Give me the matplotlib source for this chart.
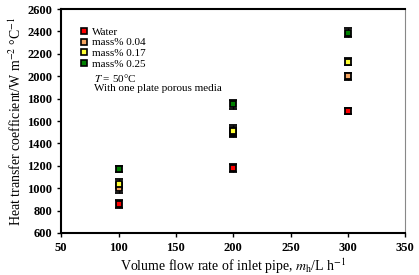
import matplotlib.pyplot as plt
import numpy as np

plt.rcParams['font.family'] = ['Liberation Serif', 'DejaVu Serif']
plt.rcParams['mathtext.fontset'] = 'stix'

flow = [100, 200, 300]
labels = ['Water', 'mass% 0.04', 'mass% 0.17', 'mass% 0.25']
h_water = [860, 1180, 1690]
h_004 = [1000, 1500, 2000]
h_017 = [1040, 1515, 2130]
h_025 = [1170, 1750, 2390]
err_water = [35, 35, 25]
err_004 = [45, 45, 30]
err_017 = [40, 50, 30]
err_025 = [30, 40, 40]
colors = ['#ff0000', '#f4a460', '#ffff33', '#008000']

fig = plt.figure(figsize=(4.19, 2.75), dpi=100)
ax = fig.add_axes([0.146, 0.153, 0.821, 0.814])

series = [(h_water, err_water), (h_004, err_004), (h_017, err_017), (h_025, err_025)]
for (vals, errs), c, lab in zip(series, colors, labels):
    ax.errorbar(flow, vals, yerr=errs, fmt='s', ms=4.5, mfc=c, mec='black', mew=1.3,
                ecolor='black', elinewidth=1, capsize=3, capthick=1.5, label=lab)

ax.set_xlim(50, 350)
ax.set_ylim(600, 2600)
ax.set_xticks(np.arange(50, 351, 50))
ax.set_yticks(np.arange(600, 2601, 200))
ax.tick_params(direction='out', length=3, width=1, labelsize=9)
for t in ax.get_xticklabels() + ax.get_yticklabels():
    t.set_fontweight('bold')
ax.spines['left'].set_linewidth(1.5)
ax.spines['bottom'].set_linewidth(1.5)
ax.spines['top'].set_linewidth(1.5)
ax.spines['right'].set_color('#888888')

ax.set_xlabel('Volume flow rate of inlet pipe, $m_{\\mathrm{h}}$/L h$^{-1}$', fontsize=10, labelpad=2)
ax.set_ylabel('Heat transfer coefficient/W m$^{-2}$ \u00b0C$^{-1}$', fontsize=10, labelpad=2)

handles = [plt.Line2D([], [], ls='', marker='s', ms=4.5, mfc=c, mec='black', mew=1.2) for c in colors]
leg = ax.legend(handles, labels, loc='upper left', bbox_to_anchor=(0.045, 0.94), frameon=False,
                fontsize=8, handlelength=0.6, handletextpad=0.4, labelspacing=0.08, borderaxespad=0)
ax.text(0.095, 0.692, '$T$ = 50\u00b0C', transform=ax.transAxes, fontsize=8, va='center')
ax.text(0.095, 0.643, 'With one plate porous media', transform=ax.transAxes, fontsize=8, va='center')

fig.savefig('out.png', dpi=100)
